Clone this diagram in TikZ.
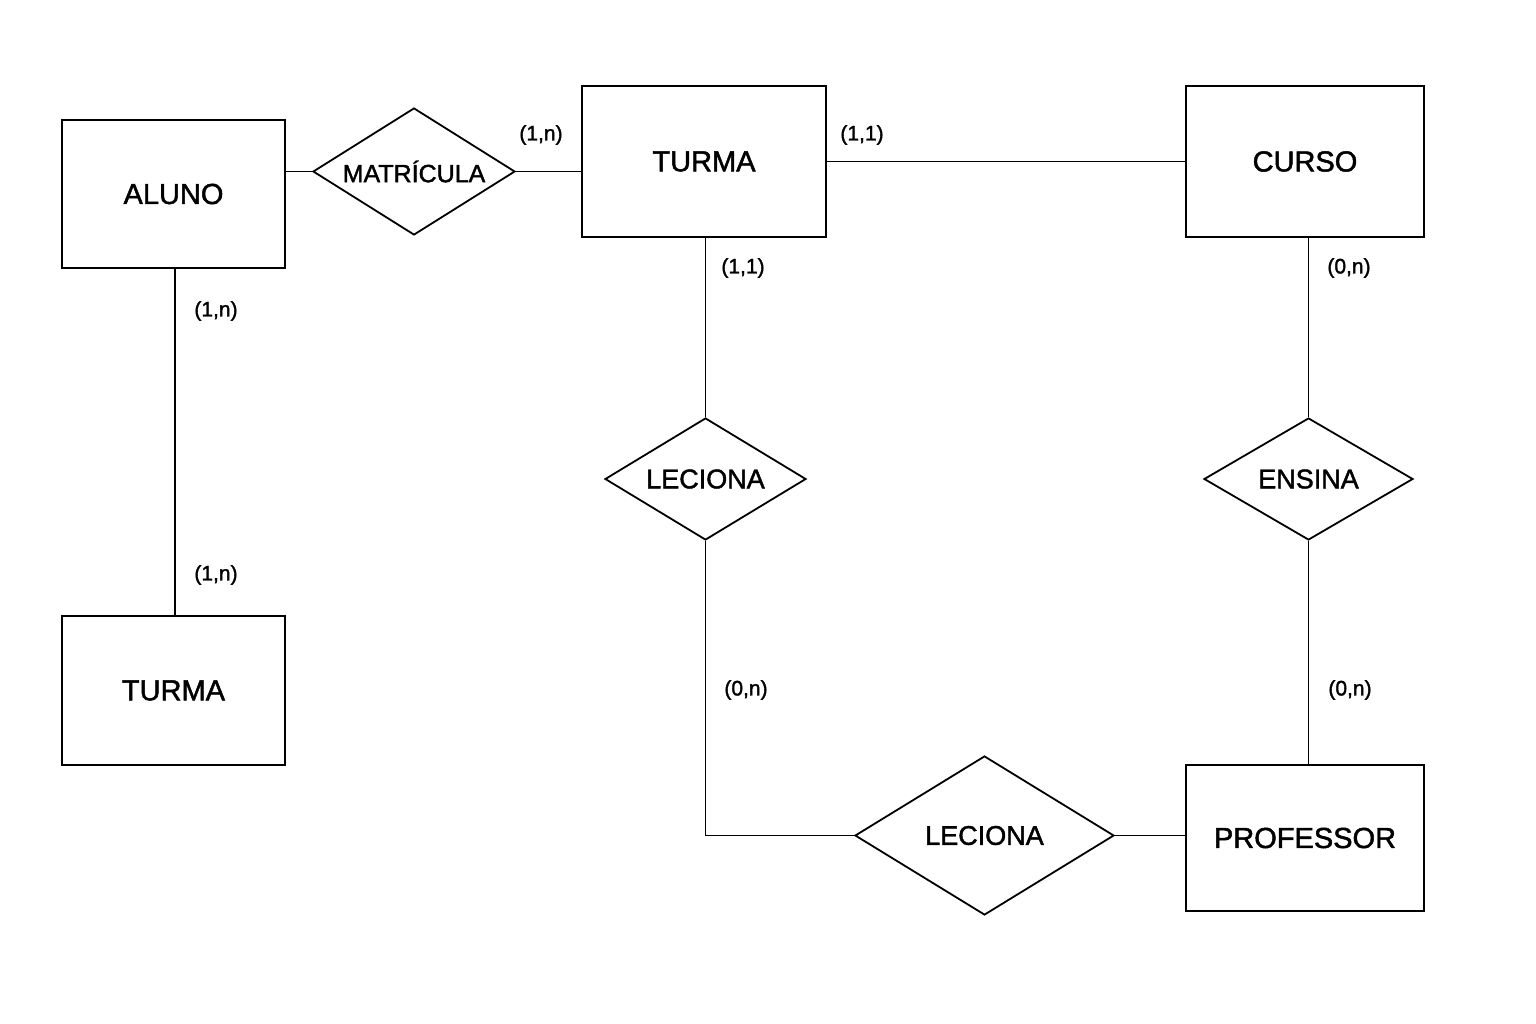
\documentclass[tikz,border=0pt]{standalone}
\usepackage{fontspec}
\setmainfont{Liberation Sans}[FakeBold=1.6]
\usetikzlibrary{shapes.geometric}
\begin{document}
\begin{tikzpicture}[x=1pt,y=-1pt,
  ent/.style={draw=black, line width=2pt, rectangle, inner sep=0pt, text=black,
    font=\fontsize{29}{34}\selectfont},
  rel/.style={draw=black, line width=1.8pt, diamond, inner sep=0pt, shape aspect=1.65, text=black,
    font=\fontsize{27}{32}\selectfont},
  card/.style={font=\fontsize{21}{25}\selectfont, text=black, inner sep=0pt},
  conn/.style={line width=1.8pt, draw=black}]
\useasboundingbox (0,0) rectangle (1536,1024);
\fill[white] (0,0) rectangle (1536,1024);
% entities
\node[ent, minimum width=223pt, minimum height=148pt] (alu) at (173.5,194) {ALUNO};
\node[ent, minimum width=244pt, minimum height=151pt] (tur1) at (704,161.5) {TURMA};
\node[ent, minimum width=238pt, minimum height=151pt] (cur) at (1305,161.5) {CURSO};
\node[ent, minimum width=223pt, minimum height=149pt] (tur2) at (173.5,690.5) {TURMA};
\node[ent, minimum width=238pt, minimum height=146pt] (prof) at (1305,838) {PROFESSOR};
% relationships
\node[rel, minimum width=202pt, minimum height=127pt, font=\fontsize{25}{30}\selectfont] (mat) at (414,171.5) {MATRÍCULA};
\node[rel, minimum width=201pt, minimum height=122pt] (lec1) at (705.5,479) {LECIONA};
\node[rel, minimum width=209pt, minimum height=122pt] (ens) at (1308.5,479) {ENSINA};
\node[rel, minimum width=259pt, minimum height=159pt] (lec2) at (984.5,835.5) {LECIONA};
% connectors
\draw[conn] (mat.west -| alu.east) -- (mat.west);
\draw[conn] (mat.east) -- (mat.east -| tur1.west);
\draw[conn] (tur1.east) -- (cur.west);
\draw[conn] (lec1.north |- tur1.south) -- (lec1.north);
\draw[conn] (lec1.south) -- (lec1.south |- lec2.west) -- (lec2.west);
\draw[conn] (lec2.east) -- (lec2.east -| prof.west);
\draw[conn] (ens.north |- cur.south) -- (ens.north);
\draw[conn] (ens.south) -- (ens.south |- prof.north);
\draw[conn] (alu.south -| tur2.south) ++(1.5,0) coordinate (a1) -- (a1 |- tur2.north);
% cardinalities
\node[card] (c1) at (541,135) {(1,n)};
\node[card] (c2) at (862,135) {(1,1)};
\node[card] (c3) at (743,268) {(1,1)};
\node[card] (c4) at (1349,268) {(0,n)};
\node[card] (c5) at (746,690) {(0,n)};
\node[card] (c6) at (1350,690) {(0,n)};
\node[card] (c7) at (216,311) {(1,n)};
\node[card] (c8) at (216,575) {(1,n)};
\end{tikzpicture}
\end{document}
